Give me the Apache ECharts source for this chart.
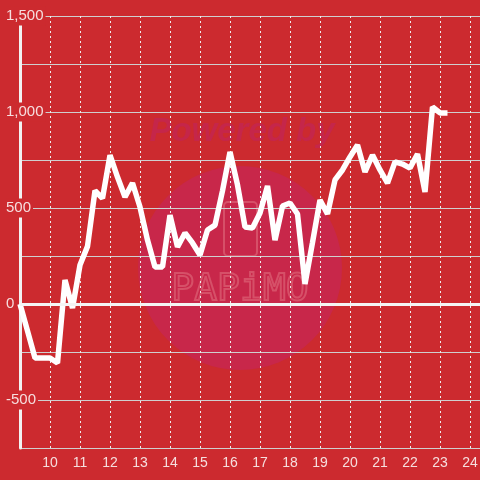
<!DOCTYPE html>
<html>
<head>
<meta charset="utf-8">
<script src="https://cdn.jsdelivr.net/npm/echarts@6/dist/echarts.min.js"></script>
<style>
  html, body { margin: 0; padding: 0; background: #cc2a2f; }
  #chart { width: 480px; height: 480px; }
</style>
</head>
<body>
<div id="chart"></div>
<script>
// hour of day and the value, one point every quarter hour
const hours = [
  9, 9.25, 9.5, 9.75, 10, 10.25, 10.5, 10.75, 11, 11.25, 11.5, 11.75,
  12, 12.25, 12.5, 12.75, 13, 13.25, 13.5, 13.75, 14, 14.25, 14.5, 14.75,
  15, 15.25, 15.5, 15.75, 16, 16.25, 16.5, 16.75, 17, 17.25, 17.5, 17.75,
  18, 18.25, 18.5, 18.75, 19, 19.25, 19.5, 19.75, 20, 20.25, 20.5, 20.75,
  21, 21.25, 21.5, 21.75, 22, 22.25, 22.5, 22.75, 23, 23.25
]
const values = [
  0, -140, -281, -281, -281, -307, 125, -21, 203, 300, 590, 550,
  775, 661, 557, 630, 505, 333, 193, 193, 463, 297, 370, 318,
  255, 385, 411, 590, 792, 620, 401, 396, 474, 615, 333, 510,
  526, 469, 104, 320, 542, 469, 646, 698, 766, 828, 688, 776,
  698, 630, 740, 729, 708, 781, 583, 1026, 995, 995
]
const yTicks = [-500, 0, 500, 1000, 1500]

const bg = '#cc2a2f'
const labelColor = '#f6dede'

const chart = echarts.init(document.getElementById('chart'))

const option = {
  backgroundColor: bg,
  animation: false,
  textStyle: { fontFamily: 'Liberation Sans, Arial, sans-serif' },
  grid: { left: 20, right: -5, top: 16, bottom: 32, outerBoundsMode: 'none' },
  // watermark behind the plot
  graphic: [
    {
      type: 'circle',
      z: -10,
      shape: { cx: 240, cy: 268, r: 102 },
      style: { fill: '#c8274a' }
    },
    {
      type: 'text',
      z: -10,
      x: 242, y: 132,
      style: {
        text: 'Powered by',
        fill: '#c5264a',
        font: 'italic bold 33px Liberation Sans, sans-serif',
        align: 'center',
        verticalAlign: 'middle'
      }
    },
    {
      type: 'rect',
      z: -10,
      shape: { x: 224, y: 202, width: 33, height: 54, r: 4 },
      style: { fill: 'none', stroke: '#d65068', lineWidth: 2 }
    },
    {
      type: 'text',
      z: -10,
      x: 240, y: 290,
      style: {
        text: 'PAPiMO',
        fill: 'none',
        stroke: '#d65068',
        lineWidth: 2,
        font: '38px DejaVu Sans Mono, monospace',
        align: 'center',
        verticalAlign: 'middle'
      }
    }
  ],
  xAxis: {
    type: 'value',
    min: 9,
    max: 24.5,
    interval: 1,
    axisLine: { show: false, onZero: false },
    axisTick: { show: false },
    axisLabel: {
      color: labelColor,
      fontSize: 14,
      margin: 8,
      formatter: v => (Number.isInteger(v) && v > 9 ? String(v) : '')
    },
    splitLine: {
      show: true,
      lineStyle: { color: '#eeeeee', type: [2, 3], width: 1 }
    }
  },
  yAxis: {
    type: 'value',
    min: -750,
    max: 1500,
    interval: 250,
    axisLine: { show: true, lineStyle: { color: '#f2f2f2', width: 3 } },
    axisTick: { show: false },
    axisLabel: {
      color: labelColor,
      fontSize: 15,
      align: 'left',
      margin: 14,
      backgroundColor: bg,
      padding: [2, 2, 2, 0],
      formatter: v => (yTicks.includes(v) ? v.toLocaleString('en-US') : '')
    },
    splitLine: { lineStyle: { color: '#cfcfcf', width: 1 } }
  },
  series: [
    {
      type: 'line',
      data: hours.map((h, i) => [h, values[i]]),
      showSymbol: false,
      symbol: 'none',
      lineStyle: { color: '#ffffff', width: 5.5 },
      markLine: {
        silent: true,
        symbol: 'none',
        label: { show: false },
        lineStyle: { color: '#f4f4f4', width: 3, type: 'solid' },
        data: [{ yAxis: 0 }]
      }
    }
  ]
}

chart.setOption(option)
</script>
</body>
</html>
